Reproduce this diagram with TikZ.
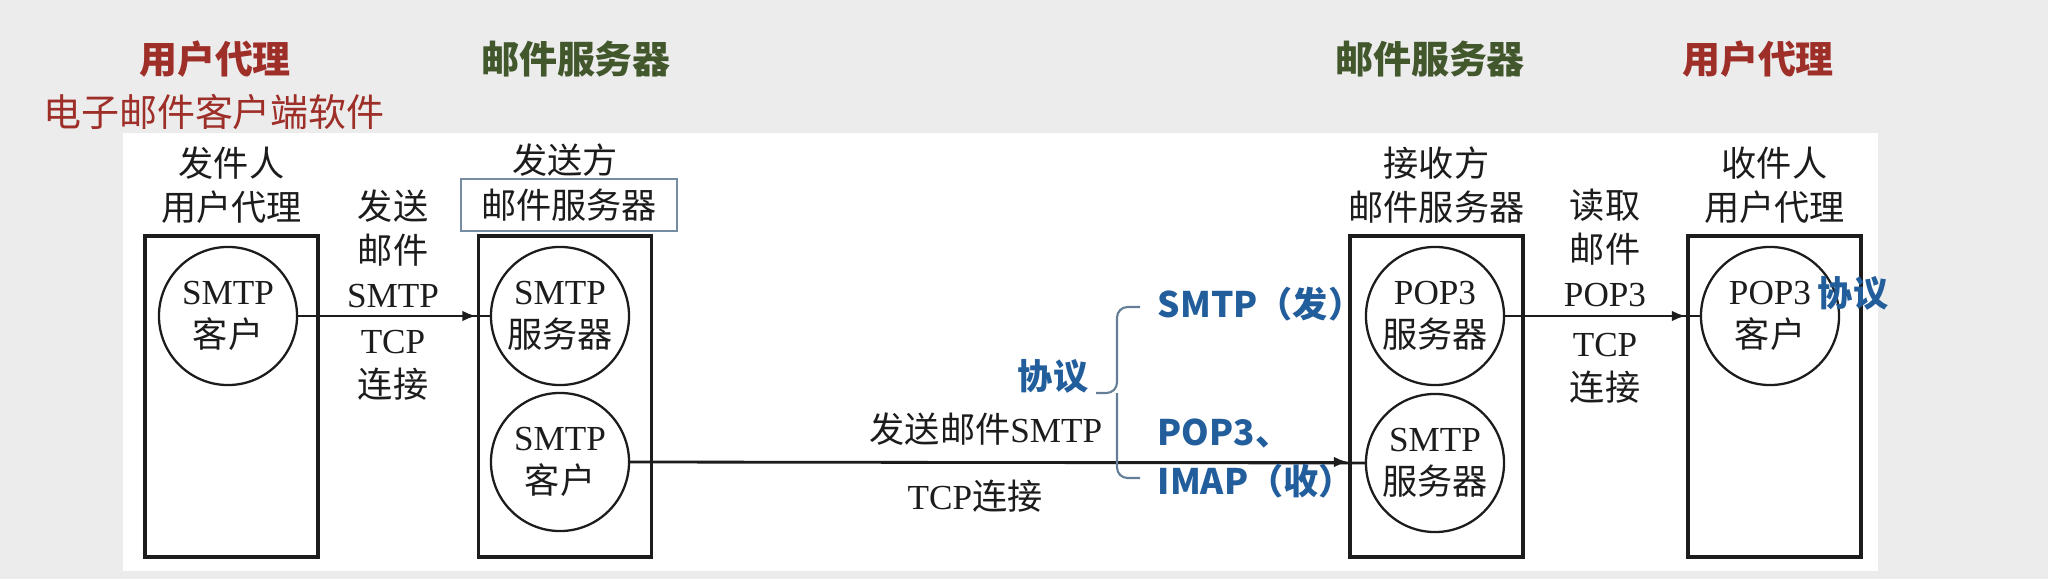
\documentclass[tikz,border=0pt]{standalone}
\usepackage{fontspec}
\setmainfont{Liberation Serif}
\newfontfamily\cjk{Noto Sans CJK SC}
\usepackage{xcolor}
\usetikzlibrary{arrows.meta}

\definecolor{titlered}{RGB}{158,46,40}
\definecolor{titlegreen}{RGB}{66,88,44}
\definecolor{protoblue}{RGB}{34,94,156}
\definecolor{bracegray}{RGB}{100,126,152}
\definecolor{inkgray}{RGB}{28,28,28}
\definecolor{slidegray}{RGB}{236,236,236}
\definecolor{framegray}{RGB}{118,140,162}

\newcommand{\zh}[1]{{\cjk #1}}

\tikzset{
    agentbox/.style={draw=inkgray, line width=1.1pt, minimum width=1.73cm, minimum height=3.21cm, inner sep=0pt},
    proc/.style={circle, draw=inkgray, line width=0.65pt, minimum size=1.38cm, inner sep=0pt, align=center, text=inkgray, font=\fontsize{10}{12.3}\selectfont},
    lbl/.style={align=center, inner sep=0pt, text=inkgray, font=\fontsize{10}{12.5}\selectfont},
    heading/.style={inner sep=0pt, font=\cjk\bfseries\fontsize{10.8}{13}\selectfont},
    proto/.style={inner sep=0pt, text=protoblue, font=\cjk\bfseries\fontsize{10}{12}\selectfont},
    conn/.style={draw=inkgray, line width=0.8pt},
    tip/.style={conn, -{Latex[length=4pt,width=3pt]}},
}

\begin{document}
\begin{tikzpicture}[x=0.01cm, y=-0.01cm]
        \useasboundingbox (0,0) rectangle (2048,579);
        \fill[slidegray] (0,0) rectangle (2048,579);
        \fill[white] (123,133) rectangle (1878,571);

        \node[heading, text=titlered] (uatitle) at (215,59) {用户代理};
        \node[inner sep=0pt, text=titlered, font=\cjk\fontsize{10.8}{13}\selectfont] (uasub) at (214,112) {电子邮件客户端软件};
        \node[heading, text=titlegreen] (mstitle) at (576,59) {邮件服务器};
        \node[heading, text=titlegreen] (mstitleb) at (1430,59) {邮件服务器};
        \node[heading, text=titlered] (uatitleb) at (1758,59) {用户代理};

        \foreach \n/\x in {sua/231.5, sms/565, rms/1436.5, rua/1774.5} {
            \node[agentbox] (\n) at (\x,396.5) {};
        }

        \node[lbl] (suahead) at (231.5,185) {\zh{发件人}\\\zh{用户代理}};
        \node[lbl] (smstop) at (565,160) {\zh{发送方}};
        \node[lbl, draw=framegray, line width=0.5pt, minimum width=2.16cm, minimum height=0.52cm] (smshead) at (569,205) {\zh{邮件服务器}};
        \node[lbl] (rmshead) at (1436.5,185) {\zh{接收方}\\\zh{邮件服务器}};
        \node[lbl] (ruahead) at (1774.5,185) {\zh{收件人}\\\zh{用户代理}};

        \node[proc] (smtpc) at (228,316) {SMTP\\\zh{客户}};
        \node[proc] (smtps) at (560,316) {SMTP\\\zh{服务器}};
        \node[proc] (smtpcb) at (560,462) {SMTP\\\zh{客户}};
        \node[proc] (pops) at (1435,316) {POP3\\\zh{服务器}};
        \node[proc] (smtpsb) at (1435,463) {SMTP\\\zh{服务器}};
        \node[proc] (popc) at (1770,316) {POP3\\\zh{客户}};

        \draw[conn] (smtpc.east) -- (smtps.west);
        \draw[tip] (smtpc.east) -- (smtpc.east -| sms.west);
        \draw[conn] (smtpcb.east) -- (smtpsb.west);
        \draw[tip] (smtpcb.east) -- (smtpcb.east -| rms.west);
        \draw[conn] (pops.east) -- (popc.west);
        \draw[tip] (pops.east) -- (pops.east -| rua.west);

        \node[lbl] (sendup) at (393,249) {\zh{发送}\\\zh{邮件}\\SMTP};
        \node[lbl] (senddown) at (393,365) {TCP\\\zh{连接}};
        \node[lbl] (relayup) at (986,429) {\zh{发送邮件}SMTP};
        \node[lbl] (relaydown) at (975,496) {TCP\zh{连接}};
        \node[lbl] (readup) at (1605,248) {\zh{读取}\\\zh{邮件}\\POP3};
        \node[lbl] (readdown) at (1605,368) {TCP\\\zh{连接}};

        \node[proto] (proto) at (1053,376) {协议};
        \node[proto, anchor=west] (protosend) at (1157,304) {SMTP（发）};
        \node[proto, anchor=west] (protopop) at (1157,434) {POP3、};
        \node[proto, anchor=west] (protoimap) at (1157,481) {IMAP（收）};
        \node[proto] (protob) at (1853,293) {协议};
        \coordinate (bracetop) at (1140,307);
        \coordinate (bracemid) at (1096,393);
        \coordinate (bracebot) at (1140,478);
        \draw[bracegray, line width=0.6pt, rounded corners=3pt] (bracetop) -| (1117,393) -- (bracemid);
        \draw[bracegray, line width=0.6pt, rounded corners=3pt] (bracebot) -| (1117,393);
\end{tikzpicture}
\end{document}
